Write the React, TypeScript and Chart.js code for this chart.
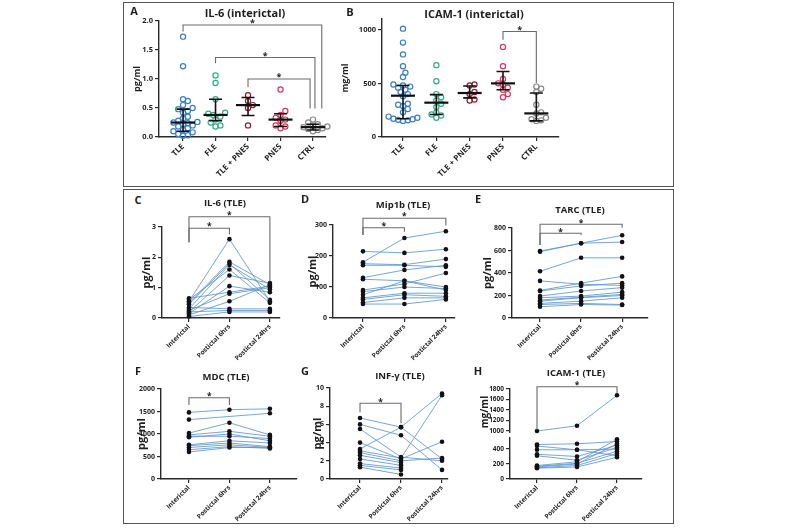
import React, { useEffect, useRef } from "react";
import { Chart, registerables } from "chart.js";

Chart.register(...registerables);

const FONT = "'Open Sans', 'Noto Sans', 'DejaVu Sans', sans-serif";
const INK = "#1e1e1e";
const AXIS = "#2a2a2a";
const BRACKET = "#6b6b6b";
const PAIR_LINE = "rgba(96,150,204,0.85)";

Chart.defaults.font.family = FONT;
Chart.defaults.color = INK;

// ---------------- Panel A / B data ----------------
const groupLabels = ["TLE", "FLE", "TLE + PNES", "PNES", "CTRL"];
const groupColors = ["#3a7fc6", "#2fae82", "#8e1f33", "#d7355f", "#8a8a8a"];

const il6TLE = [1.73, 1.22, 0.65, 0.62, 0.55, 0.5, 0.48, 0.45, 0.42, 0.35, 0.32, 0.28, 0.26, 0.25, 0.24, 0.22, 0.2, 0.18, 0.15, 0.12, 0.1, 0.08, 0.05, 0.03, 0.02];
const il6FLE = [1.06, 0.93, 0.65, 0.42, 0.4, 0.38, 0.35, 0.3, 0.25, 0.2, 0.18];
const il6TLEPNES = [0.72, 0.62, 0.55, 0.5, 0.2];
const il6PNES = [0.82, 0.45, 0.38, 0.33, 0.3, 0.28, 0.2, 0.18, 0.15];
const il6CTRL = [0.3, 0.25, 0.22, 0.2, 0.18, 0.17, 0.15, 0.14, 0.12, 0.1];
const il6Median = [0.25, 0.38, 0.55, 0.3, 0.17];
const il6Q1 = [0.1, 0.28, 0.37, 0.18, 0.12];
const il6Q3 = [0.48, 0.65, 0.68, 0.4, 0.22];

const icamTLE = [1010, 880, 770, 660, 600, 560, 490, 480, 470, 460, 440, 420, 400, 380, 310, 300, 290, 260, 230, 190, 180, 170, 165, 160, 155, 150];
const icamFLE = [670, 520, 400, 370, 340, 310, 280, 230, 210, 200, 180];
const icamTLEPNES = [490, 480, 420, 400, 350, 340];
const icamPNES = [840, 660, 540, 500, 490, 460, 440, 400, 370];
const icamCTRL = [470, 450, 420, 300, 230, 220, 180, 165, 155, 150];
const icamMedian = [385, 320, 410, 500, 220];
const icamQ1 = [170, 210, 365, 440, 150];
const icamQ3 = [480, 395, 475, 610, 410];

// ---------------- Panels C-H data (one row per patient) ----------------
const timeLabels = ["Interictal", "Postictal 6hrs", "Postictal 24hrs"];

const il6Paired = [
  [0.55, 2.6, 0.55], [0.5, 1.85, 1.1], [0.45, 1.8, 0.6], [0.3, 1.75, 0.95],
  [0.6, 1.6, 0.5], [0.2, 1.4, 1.15], [0.15, 1.05, 0.85], [0.65, 0.85, 1.05],
  [0.25, 0.8, 1.0], [0.1, 0.55, 1.1], [0.35, 0.3, 0.3], [0.2, 0.25, 0.25], [0.05, 0.2, 0.2],
];
const mip1bPaired = [
  [180, 258, 280], [215, 210, 222], [175, 172, 190], [170, 170, 165],
  [130, 155, 170], [125, 120, 100], [90, 110, 145], [85, 100, 95],
  [75, 120, 90], [65, 80, 80], [60, 75, 70], [50, 65, 65], [45, 45, 60],
];
const tarcPaired = [
  [595, 665, 735], [590, 665, 675], [415, 535, 535], [330, 300, 290],
  [245, 310, 370], [240, 285, 310], [195, 240, 270], [180, 195, 230],
  [160, 185, 210], [150, 180, 200], [130, 150, 180], [120, 130, 120], [100, 120, 115],
];
const mdcPaired = [
  [1480, 1540, 1560], [1320, null, 1460], [1020, 1250, 980], [980, 1060, 950],
  [950, 950, 900], [930, 1000, 850], [760, 850, 800], [740, 800, 720],
  [700, 760, 700], [650, 720, 680], [600, 700, 700],
];
const infPaired = [
  [6.7, 5.7, 2.2], [6.0, 4.8, 1.0], [5.5, 2.4, 2.0], [4.0, 2.2, 4.1],
  [3.3, 5.7, 9.4], [3.1, 2.3, 9.2], [2.9, 2.0, 2.3], [2.6, 1.8, null],
  [2.2, 1.5, null], [1.7, 1.2, null], [1.5, 1.0, null], [1.3, 0.5, null],
];
const icamHighPaired = [[1000, 1100, 1680]];
const icamLowPaired = [
  [460, 470, 500], [440, 390, 400], [390, 390, 310], [330, 300, 450],
  [310, 250, 420], [180, 230, 530], [170, 210, 370], [160, 200, 470],
  [150, 180, 340], [145, 160, 290],
];

// ---------------- significance brackets (category index / data units) ----------------
type Bracket = { from: number; to: number; y: number; yFrom: number; yTo: number; axis?: string };
const bracketsA: Bracket[] = [
  { from: 0, to: 4.27, y: 1.93, yFrom: 1.82, yTo: 0.49 },
  { from: 1, to: 4.06, y: 1.37, yFrom: 1.27, yTo: 0.49 },
  { from: 2, to: 3.91, y: 1.0, yFrom: 0.86, yTo: 0.49 },
];
const bracketsB: Bracket[] = [{ from: 3, to: 4, y: 984, yFrom: 906, yTo: 502 }];
const bracketsC: Bracket[] = [
  { from: 0, to: 1, y: 2.96, yFrom: 2.5, yTo: 2.76 },
  { from: 0, to: 2, y: 3.34, yFrom: 2.5, yTo: 1.2 },
];
const bracketsD: Bracket[] = [
  { from: 0, to: 1, y: 291, yFrom: 268, yTo: 278 },
  { from: 0, to: 2, y: 322, yFrom: 268, yTo: 298 },
];
const bracketsE: Bracket[] = [
  { from: 0, to: 1, y: 753, yFrom: 649, yTo: 738 },
  { from: 0, to: 2, y: 833, yFrom: 649, yTo: 803 },
];
const bracketsF: Bracket[] = [{ from: 0, to: 1, y: 1807, yFrom: 1644, yTo: 1644 }];
const bracketsG: Bracket[] = [{ from: 0, to: 1, y: 8.32, yFrom: 7.33, yTo: 6.12 }];
const bracketsH: Bracket[] = [{ from: 0, to: 2, y: 1844, yFrom: 1020, yTo: 1724, axis: "yHigh" }];

// ---------------- layout helpers ----------------
type Geo = { pl: number; pr: number; pt: number; pb: number; yW: number; padTop: number; xH: number; padR: number; xMin: number; xMax: number };

function axisGrid() {
  return { display: true, drawOnChartArea: false, drawTicks: true, tickLength: 4, color: AXIS, lineWidth: 1.2 };
}
function axisBorder() {
  return { display: true, color: AXIS, width: 1.4 };
}

function xScale(g: Geo, labels: string[], size: number) {
  return {
    type: "linear",
    position: "bottom",
    min: g.xMin,
    max: g.xMax,
    afterFit: (s: any) => { s.height = g.xH; },
    afterBuildTicks: (s: any) => { s.ticks = labels.map((_, i) => ({ value: i })); },
    ticks: {
      autoSkip: false, minRotation: 45, maxRotation: 45, padding: 1, color: INK,
      font: { family: FONT, size, weight: "bold" },
      callback: (v: any) => labels[Math.round(Number(v))] ?? "",
    },
    grid: axisGrid(),
    border: axisBorder(),
  };
}

type YOpts = { min: number; max: number; step: number; title?: string; titleSize?: number; tickSize: number; fmt?: (v: number) => string; stack?: string; weight?: number };
function yScale(g: Geo, o: YOpts) {
  return {
    type: "linear",
    axis: "y",
    position: "left",
    min: o.min,
    max: o.max,
    stack: o.stack,
    stackWeight: o.weight,
    afterFit: (s: any) => { s.width = g.yW; },
    afterBuildTicks: (s: any) => {
      const out: { value: number }[] = [];
      for (let k = Math.ceil(o.min / o.step - 1e-9); k * o.step <= o.max + 1e-9; k++) {
        out.push({ value: Math.round(k * o.step * 1e6) / 1e6 });
      }
      s.ticks = out;
    },
    ticks: {
      autoSkip: false, padding: 2, color: INK,
      font: { family: FONT, size: o.tickSize, weight: "bold" },
      callback: (v: any) => (o.fmt ? o.fmt(Number(v)) : String(v)),
    },
    grid: axisGrid(),
    border: axisBorder(),
    title: o.title
      ? { display: true, text: o.title, color: INK, padding: 0, font: { family: FONT, size: o.titleSize || 10, weight: "bold" } }
      : { display: false },
  };
}

function bracketPlugin(items: Bracket[], starSize: number) {
  return {
    id: "sigBrackets",
    afterDatasetsDraw(chart: any) {
      const ctx = chart.ctx;
      const xs = chart.scales.x;
      ctx.save();
      ctx.lineWidth = 1.1;
      ctx.strokeStyle = BRACKET;
      ctx.fillStyle = INK;
      ctx.font = `bold ${starSize}px ${FONT}`;
      ctx.textAlign = "center";
      ctx.textBaseline = "alphabetic";
      for (const b of items) {
        const ys = chart.scales[b.axis || "y"];
        const x1 = xs.getPixelForValue(b.from);
        const x2 = xs.getPixelForValue(b.to);
        const yy = ys.getPixelForValue(b.y);
        ctx.beginPath();
        ctx.moveTo(x1, ys.getPixelForValue(b.yFrom));
        ctx.lineTo(x1, yy);
        ctx.lineTo(x2, yy);
        ctx.lineTo(x2, ys.getPixelForValue(b.yTo));
        ctx.stroke();
        ctx.fillText("*", (x1 + x2) / 2, yy + starSize * 0.15);
      }
      ctx.restore();
    },
  };
}

function summaryPlugin(med: number[], lo: number[], hi: number[]) {
  return {
    id: "summaryBars",
    afterDatasetsDraw(chart: any) {
      const ctx = chart.ctx;
      const xs = chart.scales.x;
      const ys = chart.scales.y;
      ctx.save();
      ctx.strokeStyle = "#111";
      med.forEach((m, i) => {
        const cx = xs.getPixelForValue(i);
        const ym = ys.getPixelForValue(m);
        const y1 = ys.getPixelForValue(lo[i]);
        const y2 = ys.getPixelForValue(hi[i]);
        ctx.lineWidth = 1.6;
        ctx.beginPath();
        ctx.moveTo(cx, y1); ctx.lineTo(cx, y2);
        ctx.moveTo(cx - 6.5, y1); ctx.lineTo(cx + 6.5, y1);
        ctx.moveTo(cx - 6.5, y2); ctx.lineTo(cx + 6.5, y2);
        ctx.stroke();
        ctx.lineWidth = 2.2;
        ctx.beginPath();
        ctx.moveTo(cx - 12, ym); ctx.lineTo(cx + 12, ym);
        ctx.stroke();
      });
      ctx.restore();
    },
  };
}

// small gap in the y axis line between the two stacked segments (axis break)
const axisBreakPlugin = {
  id: "axisBreak",
  afterDraw(chart: any) {
    const lo = chart.scales.yLow;
    if (!lo) return;
    const x = chart.chartArea.left;
    chart.ctx.clearRect(x - 6, lo.top - 2, 9, 4);
  },
};

// horizontal spread of overlapping points (scatter-dot-plot layout)
function swarmOffsets(values: number[], pxPerUnit: number, pxPerCat: number, diam: number): number[] {
  const placed: { x: number; y: number }[] = [];
  const out: number[] = new Array(values.length).fill(0);
  const order = values.map((_, i) => i).sort((a, b) => values[a] - values[b]);
  for (const i of order) {
    const y = values[i] * pxPerUnit;
    let x = 0;
    for (let k = 0; k < 60; k++) {
      const cand = k === 0 ? 0 : (k % 2 ? 1 : -1) * Math.ceil(k / 2) * diam * 0.5;
      if (placed.every((p) => (p.x - cand) ** 2 + (p.y - y) ** 2 >= diam * diam)) { x = cand; break; }
    }
    placed.push({ x, y });
    out[i] = x / pxPerCat;
  }
  return out;
}

function baseOptions(g: Geo, scales: any) {
  return {
    responsive: false,
    maintainAspectRatio: false,
    animation: false,
    layout: { padding: { top: g.padTop, right: g.padR, left: 0, bottom: 0 } },
    plugins: { legend: { display: false }, tooltip: { enabled: false }, title: { display: false } },
    scales,
  };
}

function swarmConfig(g: Geo, groups: number[][], med: number[], lo: number[], hi: number[], y: YOpts, brackets: Bracket[]) {
  const pxPerUnit = (g.pb - g.pt) / (y.max - y.min);
  const pxPerCat = (g.pr - g.pl) / (g.xMax - g.xMin);
  const datasets = groups.map((vals, gi) => {
    const offs = swarmOffsets(vals, pxPerUnit, pxPerCat, 4.8);
    return {
      data: vals.map((v, k) => ({ x: gi + offs[k], y: v })),
      showLine: false,
      pointRadius: 2.6,
      pointBorderWidth: 1.2,
      pointBorderColor: groupColors[gi],
      pointBackgroundColor: "rgba(255,255,255,0)",
      clip: false,
    };
  });
  return {
    type: "scatter",
    data: { datasets },
    options: baseOptions(g, { x: xScale(g, groupLabels, 8), y: yScale(g, y) }),
    plugins: [summaryPlugin(med, lo, hi), bracketPlugin(brackets, 9)],
  };
}

function pairedDataset(rows: (number | null)[][], axisId: string) {
  return rows.map((row) => ({
    data: row.map((v, i) => ({ x: i, y: v })),
    showLine: true,
    spanGaps: true,
    borderColor: PAIR_LINE,
    borderWidth: 1,
    pointRadius: 2.3,
    pointBorderWidth: 0,
    pointBackgroundColor: "#111",
    pointBorderColor: "#111",
    yAxisID: axisId,
    clip: false,
  }));
}

function pairedConfig(g: Geo, rows: (number | null)[][], y: YOpts, brackets: Bracket[]) {
  return {
    type: "scatter",
    data: { datasets: pairedDataset(rows, "y") },
    options: baseOptions(g, { x: xScale(g, timeLabels, 6.5), y: yScale(g, y) }),
    plugins: [bracketPlugin(brackets, 8.5)],
  };
}

function brokenConfig(g: Geo) {
  return {
    type: "scatter",
    data: { datasets: [...pairedDataset(icamLowPaired, "yLow"), ...pairedDataset(icamHighPaired, "yHigh")] },
    options: baseOptions(g, {
      x: xScale(g, timeLabels, 6.5),
      yLow: yScale(g, { min: 0, max: 587, step: 200, tickSize: 6.5, stack: "icam", weight: 44 }),
      yHigh: yScale(g, { min: 924, max: 1800, step: 200, tickSize: 6.5, stack: "icam", weight: 46, title: "mg/ml", titleSize: 10 }),
    }),
    plugins: [bracketPlugin(bracketsH, 8.5), axisBreakPlugin],
  };
}

// ---------------- geometry of each panel ----------------
const geoA: Geo = { pl: 159, pr: 326, pt: 21, pb: 137, yW: 27, padTop: 19, xH: 46, padR: 8, xMin: -0.74, xMax: 4.4 };
const geoB: Geo = { pl: 382, pr: 559, pt: 19, pb: 137, yW: 42, padTop: 17, xH: 46, padR: 8, xMin: -0.63, xMax: 4.68 };
const geoC: Geo = { pl: 162, pr: 280, pt: 227, pb: 318, yW: 22, padTop: 20, xH: 48, padR: 12, xMin: -0.667, xMax: 2.25 };
const geoD: Geo = { pl: 333, pr: 455, pt: 225, pb: 318, yW: 27, padTop: 20, xH: 48, padR: 12, xMin: -0.723, xMax: 2.22 };
const geoE: Geo = { pl: 512, pr: 648, pt: 228, pb: 318, yW: 31, padTop: 20, xH: 48, padR: 12, xMin: -0.683, xMax: 2.63 };
const geoF: Geo = { pl: 161, pr: 297, pt: 389, pb: 479, yW: 26, padTop: 20, xH: 46, padR: 12, xMin: -0.691, xMax: 2.67 };
const geoG: Geo = { pl: 330, pr: 448, pt: 388, pb: 479, yW: 19, padTop: 20, xH: 46, padR: 12, xMin: -0.732, xMax: 2.146 };
const geoH: Geo = { pl: 510, pr: 642, pt: 389, pb: 479, yW: 31, padTop: 20, xH: 46, padR: 12, xMin: -0.675, xMax: 2.625 };

function ChartCanvas({ geo, make }: { geo: Geo; make: () => any }) {
  const ref = useRef<HTMLCanvasElement | null>(null);
  useEffect(() => {
    if (!ref.current) return;
    const chart = new Chart(ref.current, make());
    return () => chart.destroy();
  }, []);
  const left = geo.pl - geo.yW;
  const top = geo.pt - geo.padTop;
  const width = geo.yW + geo.pr - geo.pl + geo.padR;
  const height = geo.padTop + geo.pb - geo.pt + geo.xH;
  return <canvas ref={ref} width={width} height={height} style={{ position: "absolute", left, top, width, height }} />;
}

function Label({ text, x, y, size }: { text: string; x: number; y: number; size: number }) {
  return (
    <div
      style={{
        position: "absolute", left: x, top: y, transform: "translate(-50%, -50%)",
        fontFamily: FONT, fontWeight: 700, fontSize: size, lineHeight: 1, color: INK, whiteSpace: "nowrap",
      }}
    >
      {text}
    </div>
  );
}

export default function App() {
  const frame = { position: "absolute" as const, border: "1.5px solid #555", boxSizing: "border-box" as const };
  return (
    <div style={{ position: "fixed", left: 0, top: 0, width: 800, height: 530, background: "#fff", overflow: "hidden" }}>
      <div style={{ ...frame, left: 123, top: 2, width: 551, height: 185 }} />
      <div style={{ ...frame, left: 123, top: 189, width: 551, height: 335 }} />

      <ChartCanvas geo={geoA} make={() => swarmConfig(geoA, [il6TLE, il6FLE, il6TLEPNES, il6PNES, il6CTRL], il6Median, il6Q1, il6Q3,
        { min: 0, max: 2, step: 0.5, tickSize: 7.5, title: "pg/ml", titleSize: 9, fmt: (v) => v.toFixed(1) }, bracketsA)} />
      <ChartCanvas geo={geoB} make={() => swarmConfig(geoB, [icamTLE, icamFLE, icamTLEPNES, icamPNES, icamCTRL], icamMedian, icamQ1, icamQ3,
        { min: 0, max: 1100, step: 500, tickSize: 7.5, title: "mg/ml", titleSize: 9 }, bracketsB)} />
      <ChartCanvas geo={geoC} make={() => pairedConfig(geoC, il6Paired, { min: 0, max: 3, step: 1, tickSize: 7, title: "pg/ml", titleSize: 11 }, bracketsC)} />
      <ChartCanvas geo={geoD} make={() => pairedConfig(geoD, mip1bPaired, { min: 0, max: 300, step: 100, tickSize: 7, title: "pg/ml", titleSize: 11 }, bracketsD)} />
      <ChartCanvas geo={geoE} make={() => pairedConfig(geoE, tarcPaired, { min: 0, max: 800, step: 200, tickSize: 7, title: "pg/ml", titleSize: 11 }, bracketsE)} />
      <ChartCanvas geo={geoF} make={() => pairedConfig(geoF, mdcPaired, { min: 0, max: 2000, step: 500, tickSize: 7, title: "pg/ml", titleSize: 11 }, bracketsF)} />
      <ChartCanvas geo={geoG} make={() => pairedConfig(geoG, infPaired, { min: 0, max: 10, step: 2, tickSize: 7, title: "pg/ml", titleSize: 11 }, bracketsG)} />
      <ChartCanvas geo={geoH} make={() => brokenConfig(geoH)} />

      <Label text="A" x={134} y={10} size={11} />
      <Label text="B" x={350} y={11} size={11} />
      <Label text="C" x={138} y={199} size={11} />
      <Label text="D" x={305} y={198} size={11} />
      <Label text="E" x={478} y={198} size={11} />
      <Label text="F" x={138} y={370} size={11} />
      <Label text="G" x={305} y={370} size={11} />
      <Label text="H" x={478} y={370} size={11} />

      <Label text="IL-6 (interictal)" x={245} y={12} size={11} />
      <Label text="ICAM-1 (interictal)" x={474} y={13} size={11} />
      <Label text="IL-6 (TLE)" x={225} y={203} size={9.5} />
      <Label text="Mip1b (TLE)" x={403} y={205} size={9.5} />
      <Label text="TARC (TLE)" x={580} y={210} size={9.5} />
      <Label text="MDC (TLE)" x={226} y={377} size={9.5} />
      <Label text="INF-γ (TLE)" x={400} y={376} size={9.5} />
      <Label text="ICAM-1 (TLE)" x={576} y={373} size={9.5} />
    </div>
  );
}
